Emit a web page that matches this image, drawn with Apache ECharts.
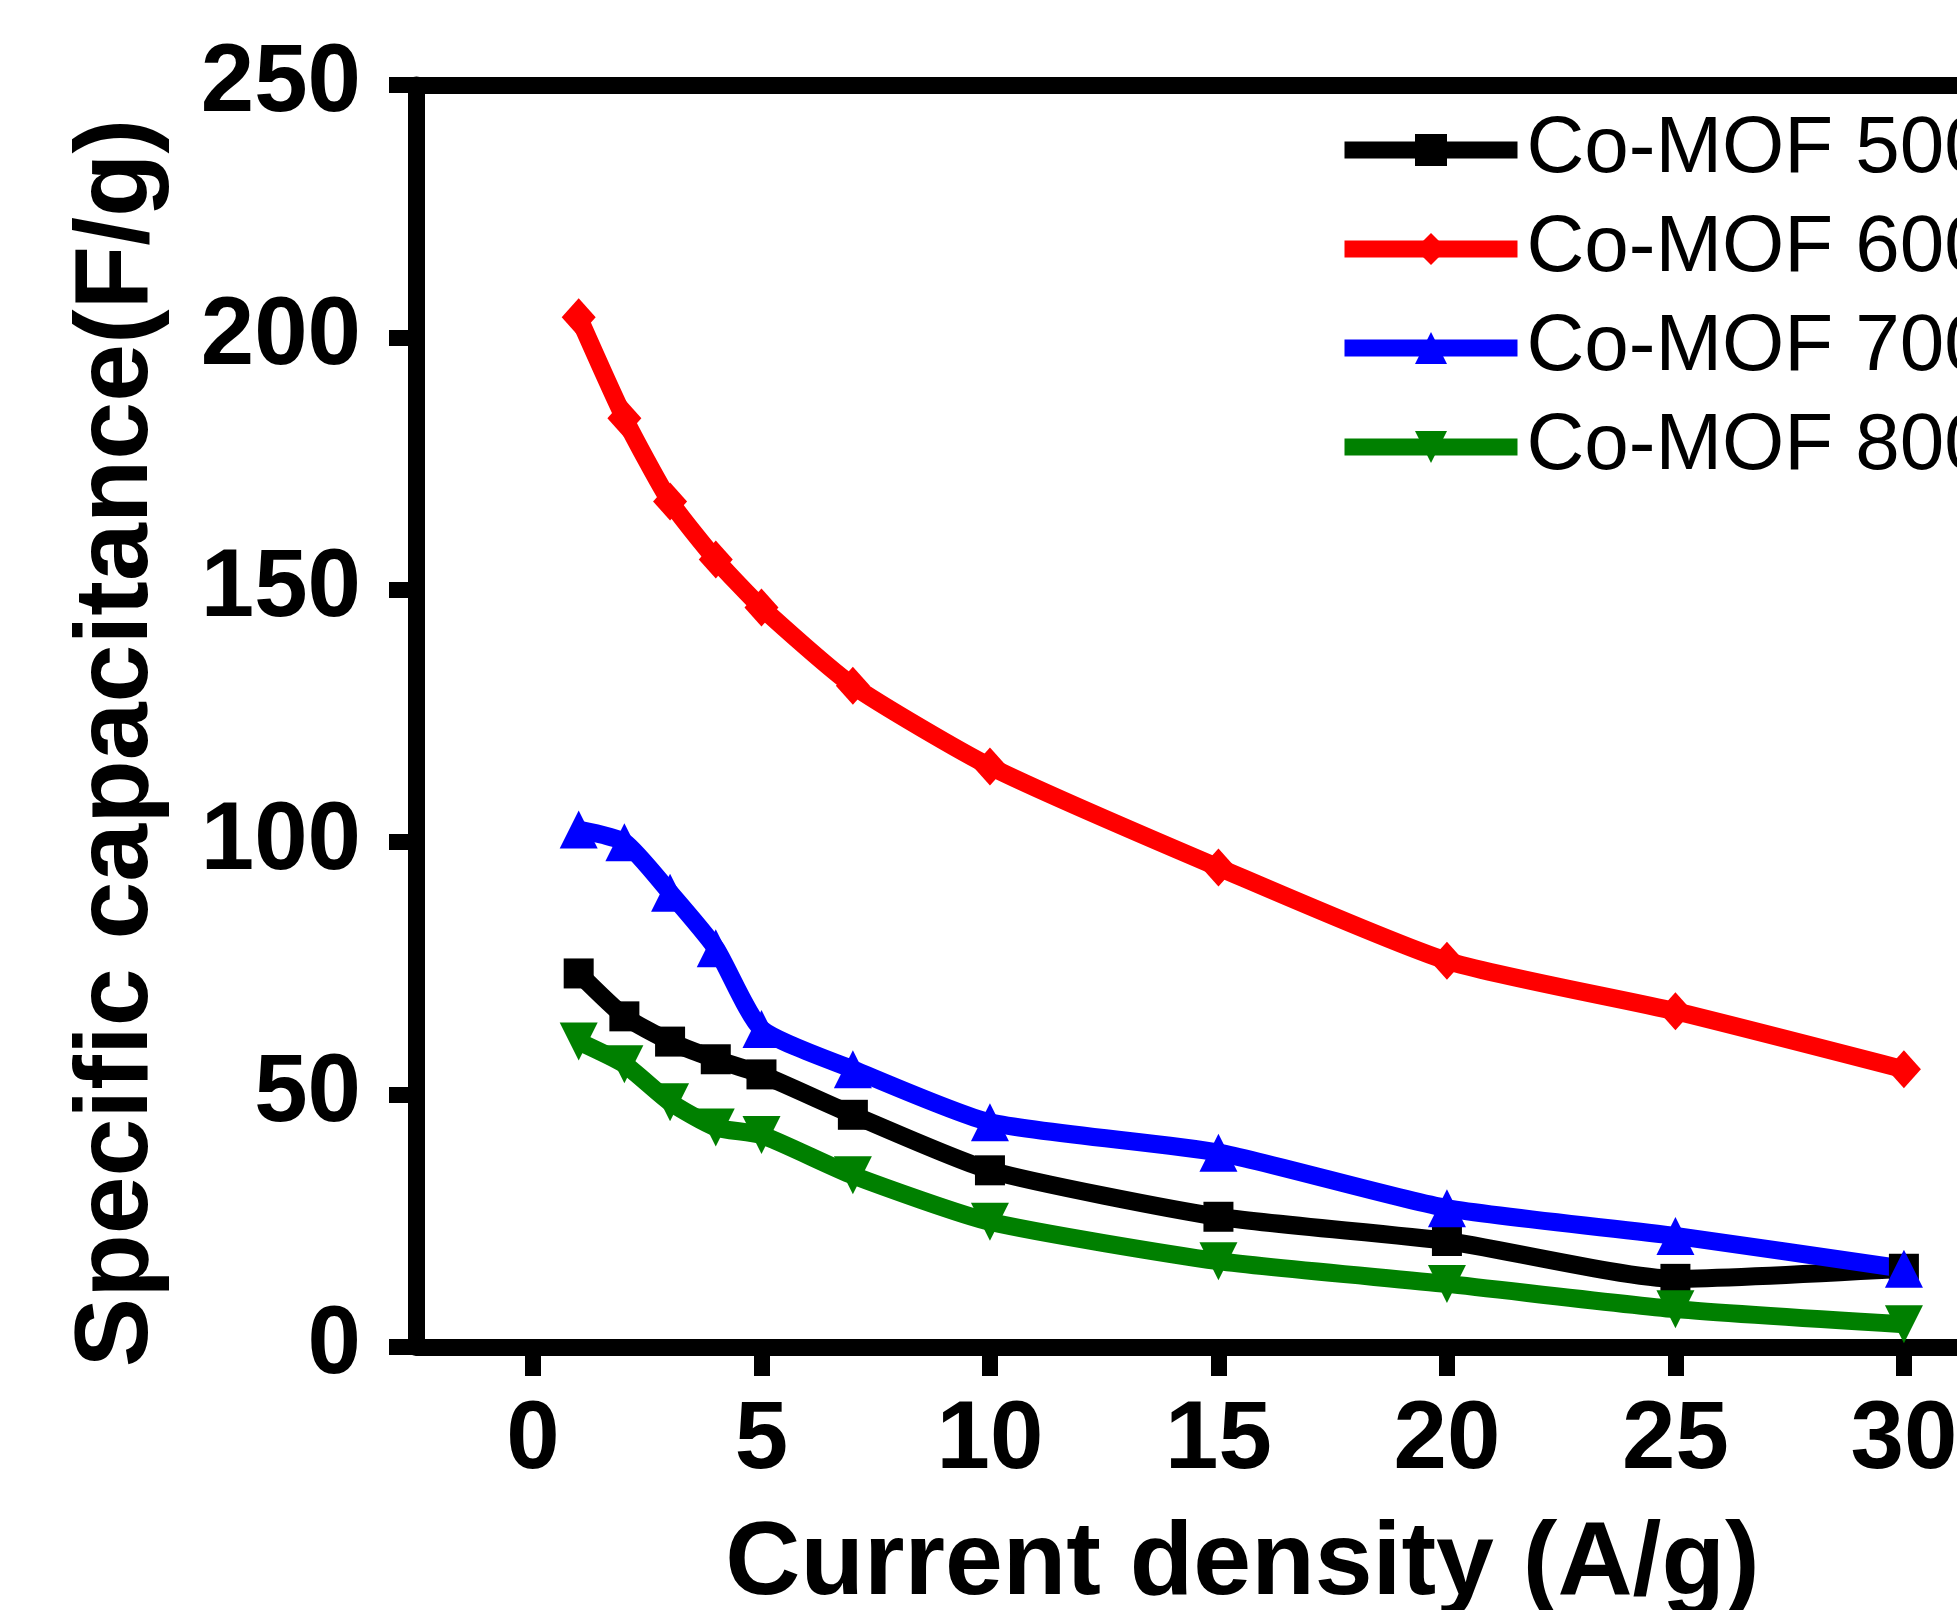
<!DOCTYPE html>
<html>
<head>
<meta charset="utf-8">
<script src="https://cdn.jsdelivr.net/npm/echarts@6/dist/echarts.min.js"></script>
<style>
html,body{margin:0;padding:0;background:#ffffff;}
#chart{width:1957px;height:1610px;}
</style>
</head>
<body>
<div id="chart"></div>
<script>
// ---- data ----
const currentDensity = [1, 2, 3, 4, 5, 7, 10, 15, 20, 25, 30];
const mof500 = [74, 65.5, 60.5, 57, 54, 46, 35, 25.8, 21, 13.5, 15.5];
const mof600 = [204, 184, 167.5, 156, 146.5, 131, 115, 95, 76.5, 66.5, 55];
const mof700 = [102.5, 100, 90, 79, 63, 55, 44.5, 38.5, 27.5, 22, 15.5];
const mof800 = [60.5, 56, 48.5, 43.5, 42, 34, 24.8, 17, 12.5, 7.5, 4.5];
const seriesNames = ['Co-MOF 500', 'Co-MOF 600', 'Co-MOF 700', 'Co-MOF 800'];
const xTickValues = [0, 5, 10, 15, 20, 25, 30];

const FONT = "'Liberation Sans', Arial, Helvetica, sans-serif";
const LW = 18;

function pairs(vals) { return currentDensity.map((x, i) => [x, vals[i]]); }

function mkSeries(name, vals, color, symbol, size, rotate) {
  return {
    name: name, type: 'line', data: pairs(vals),
    symbol: symbol, symbolSize: size, symbolRotate: rotate || 0,
    showSymbol: true, clip: false, smooth: 0.2,
    lineStyle: { width: LW, color: color, cap: 'butt', join: 'round' },
    itemStyle: { color: color, borderWidth: 0 },
    emphasis: { disabled: true },
    animation: false
  };
}

const chart = echarts.init(document.getElementById('chart'), null, { renderer: 'canvas' });
const axisLineStyle = { color: '#000', width: 17 };

chart.setOption({
  backgroundColor: '#ffffff',
  animation: false,
  grid: { left: 416, top: 85, width: 1625, height: 1262, outerBoundsMode: 'none', containLabel: false },
  legend: {
    orient: 'vertical', left: 1336, top: 110, padding: 0,
    itemWidth: 173, itemHeight: 40, itemGap: 19,
    lineStyle: { width: 17 },
    textStyle: { fontFamily: FONT, fontSize: 80, color: '#000', lineHeight: 80, padding: [0, 0, 0, 4] },
    data: seriesNames
  },
  xAxis: [{
    type: 'value', min: -2.56, max: 33, position: 'bottom',
    axisLine: { show: true, onZero: false, lineStyle: axisLineStyle },
    axisTick: { show: true, inside: false, length: 29, customValues: xTickValues, lineStyle: { color: '#000', width: 16 } },
    axisLabel: { show: true, customValues: xTickValues, margin: 47, fontFamily: FONT, fontSize: 96, fontWeight: 'bold', color: '#000' },
    splitLine: { show: false },
    name: 'Current density (A/g)', nameLocation: 'middle', nameGap: 166,
    nameTextStyle: { fontFamily: FONT, fontSize: 104, fontWeight: 'bold', color: '#000', padding: [0, 0, 0, 28] }
  }, {
    type: 'value', min: -2.56, max: 33, position: 'top',
    axisLine: { show: true, onZero: false, lineStyle: axisLineStyle },
    axisTick: { show: false }, axisLabel: { show: false }, splitLine: { show: false }
  }],
  yAxis: [{
    type: 'value', min: 0, max: 250, interval: 50, position: 'left',
    axisLine: { show: true, onZero: false, lineStyle: axisLineStyle },
    axisTick: { show: true, inside: false, length: 27, lineStyle: { color: '#000', width: 16 } },
    axisLabel: { show: true, margin: 55, fontFamily: FONT, fontSize: 96, fontWeight: 'bold', color: '#000' },
    splitLine: { show: false },
    name: 'Specific capacitance(F/g)', nameLocation: 'middle', nameGap: 246,
    nameTextStyle: { fontFamily: FONT, fontSize: 104, fontWeight: 'bold', color: '#000', padding: [0, 54, 0, 0] }
  }],
  series: [
    mkSeries(seriesNames[0], mof500, '#000000', 'rect', 30),
    mkSeries(seriesNames[1], mof600, '#ff0000', 'diamond', [34, 38]),
    mkSeries(seriesNames[2], mof700, '#0000ff', 'triangle', 38),
    mkSeries(seriesNames[3], mof800, '#008000', 'triangle', 38, 180)
  ]
});
</script>
</body>
</html>
